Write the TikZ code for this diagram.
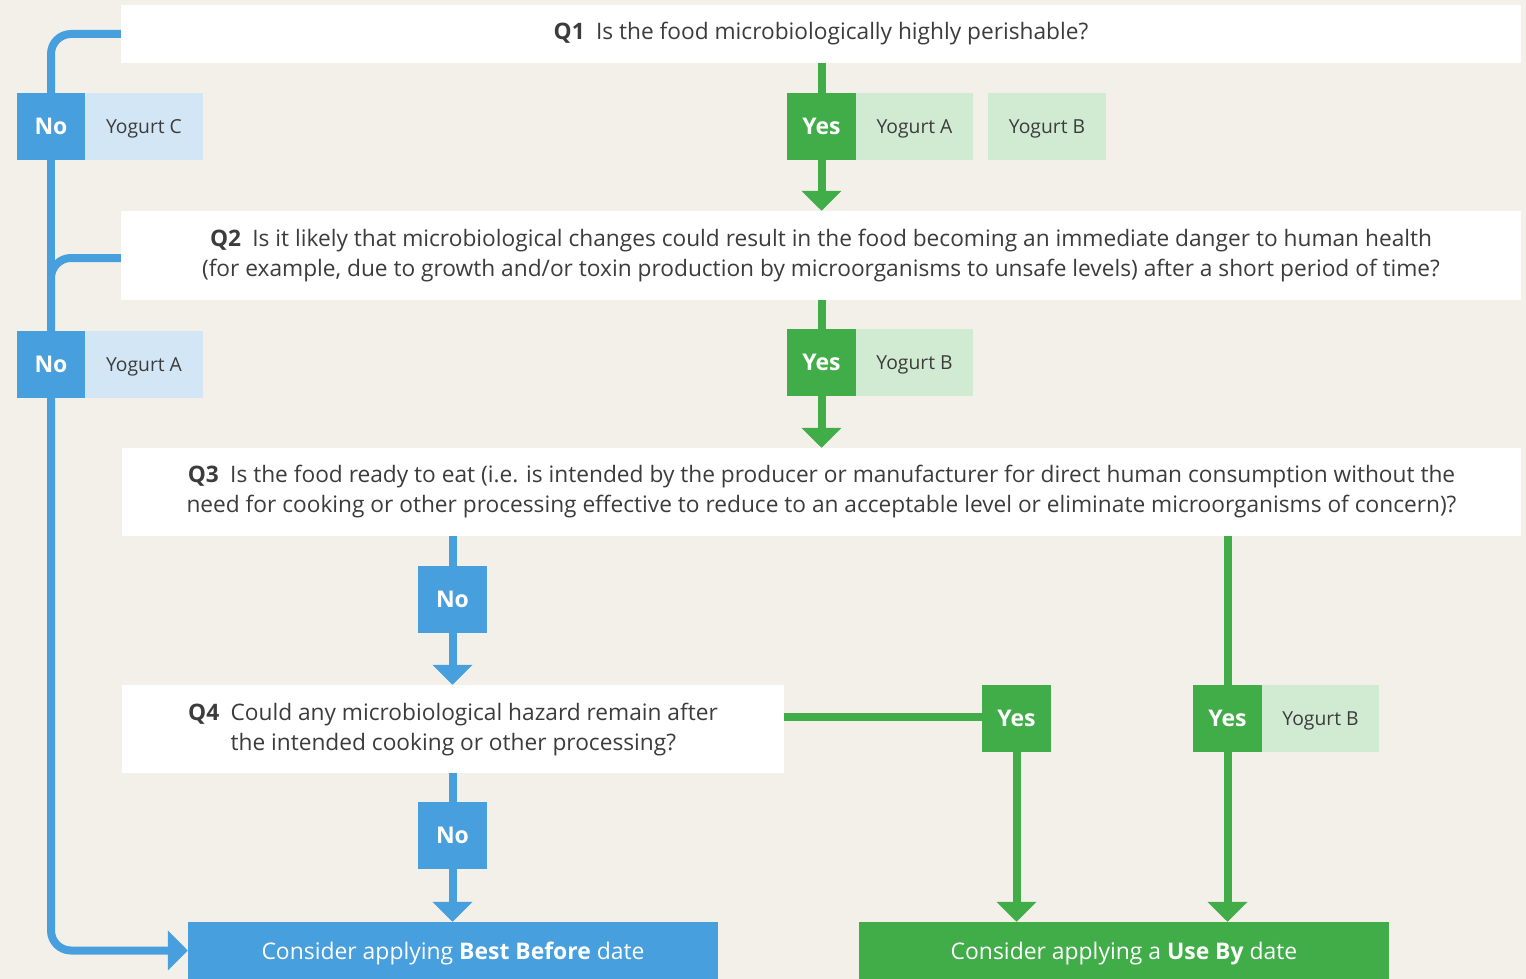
\documentclass[tikz,border=0pt]{standalone}
\usepackage{fontspec}
\setmainfont{Open Sans}
\usetikzlibrary{arrows.meta}
\definecolor{paper}{HTML}{F3F0EA}
\definecolor{inkgray}{HTML}{3C3C3C}
\definecolor{noblue}{HTML}{479FDE}
\definecolor{nobluelight}{HTML}{D2E6F6}
\definecolor{yesgreen}{HTML}{41AD49}
\definecolor{yesgreenlight}{HTML}{D1EBD3}
\begin{document}
\begin{tikzpicture}[x=1pt, y=-1pt,
    question/.style={fill=white, text=inkgray, inner sep=0pt, align=center, font=\fontsize{22.7}{30}\selectfont},
    answer/.style={inner sep=0pt, minimum width=69pt, minimum height=67pt, text=white, text depth=0pt, font=\fontsize{23}{26}\selectfont\bfseries},
    noanswer/.style={answer, fill=noblue},
    yesanswer/.style={answer, fill=yesgreen},
    yogurt/.style={inner sep=0pt, minimum width=118pt, minimum height=67pt, text=inkgray, text depth=0pt, font=\fontsize{19.3}{22}\selectfont},
    outcome/.style={inner sep=0pt, minimum width=530pt, minimum height=57pt, text=white, text depth=0pt, font=\fontsize{22.9}{26}\selectfont},
    noline/.style={draw=noblue, line width=8pt},
    yesline/.style={draw=yesgreen, line width=8pt},
    tip/.style={-{Triangle[width=39pt, length=20pt]}}]
    \def\qwidth{1400pt}

    % Background
    \fill[paper] (0,0) rectangle (1526,979);
    \useasboundingbox (0,0) rectangle (1526,979);

    % Questions
    \node[question, minimum width=\qwidth, minimum height=58pt] (q1) at (821,34) {\textbf{Q1}\enspace Is the food microbiologically highly perishable?};
    \node[question, minimum width=\qwidth, minimum height=89pt] (q2) at (821,255.5) {\textbf{Q2}\enspace Is it likely that microbiological changes could result in the food becoming an immediate danger to human health\\(for example, due to growth and/or toxin production by microorganisms to unsafe levels) after a short period of time?};
    \node[question, minimum width=1399pt, minimum height=88pt] (q3) at (821.5,492) {\textbf{Q3}\enspace Is the food ready to eat (i.e. is intended by the producer or manufacturer for direct human consumption without the\\need for cooking or other processing effective to reduce to an acceptable level or eliminate microorganisms of concern)?};
    \node[question, minimum width=662pt, minimum height=88pt] (q4) at (453,729) {\textbf{Q4}\enspace\begin{tabular}[t]{@{}l@{}}Could any microbiological hazard remain after\\the intended cooking or other processing?\end{tabular}};

    % Answers with the yogurts they apply to
    \node[noanswer, minimum width=68pt] (no1) at (51,126.5) {No};
    \node[yogurt, fill=nobluelight] (yogc1) at (144,126.5) {Yogurt C};
    \node[yesanswer] (yes1) at (821.5,126.5) {Yes};
    \node[yogurt, fill=yesgreenlight, minimum width=117pt] (yoga1) at (914.5,126.5) {Yogurt A};
    \node[yogurt, fill=yesgreenlight] (yogb1) at (1047,126.5) {Yogurt B};

    \node[noanswer, minimum width=68pt] (no2) at (51,364.5) {No};
    \node[yogurt, fill=nobluelight] (yoga2) at (144,364.5) {Yogurt A};
    \node[yesanswer] (yes2) at (821.5,362.5) {Yes};
    \node[yogurt, fill=yesgreenlight, minimum width=117pt] (yogb2) at (914.5,362.5) {Yogurt B};

    \node[noanswer] (no3) at (452.5,599.5) {No};
    \node[yesanswer] (yes3) at (1227.5,718.5) {Yes};
    \node[yogurt, fill=yesgreenlight, minimum width=117pt] (yogb3) at (1320.5,718.5) {Yogurt B};

    \node[yesanswer] (yes4) at (1016.5,718.5) {Yes};
    \node[noanswer] (no4) at (452.5,835.5) {No};

    % Outcomes
    \node[outcome, fill=noblue] (bestbefore) at (453,950.5) {Consider applying \textbf{Best Before} date};
    \node[outcome, fill=yesgreen] (useby) at (1124,950.5) {Consider applying a \textbf{Use By} date};

    % No branches on the left
    \draw[noline, rounded corners=20pt] (q1.west) -| (no1.north);
    \draw[noline] (no1.south) -- (no2.north);
    \draw[noline, rounded corners=20pt] (q2.west |- 0,258) -| (no2.north);
    \draw[noline, rounded corners=20pt, tip] (no2.south) |- (bestbefore.west);

    % Yes branches down the middle
    \draw[yesline] (q1.south -| yes1.north) -- (yes1.north);
    \draw[yesline, tip] (yes1.south) -- (yes1.south |- q2.north);
    \draw[yesline] (q2.south -| yes2.north) -- (yes2.north);
    \draw[yesline, tip] (yes2.south) -- (yes2.south |- q3.north);

    % Q3 and Q4
    \draw[noline] (q3.south -| no3.north) -- (no3.north);
    \draw[noline, tip] (no3.south) -- (no3.south |- q4.north);
    \draw[yesline] (q3.south -| yes3.north) -- (yes3.north);
    \draw[yesline, tip] (yes3.south) -- (yes3.south |- useby.north);
    \draw[noline] (q4.south -| no4.north) -- (no4.north);
    \draw[noline, tip] (no4.south) -- (no4.south |- bestbefore.north);
    \draw[yesline] (q4.east |- 0,717) -- (yes4.west |- 0,717);
    \draw[yesline, tip] (yes4.south) -- (yes4.south |- useby.north);
\end{tikzpicture}
\end{document}
